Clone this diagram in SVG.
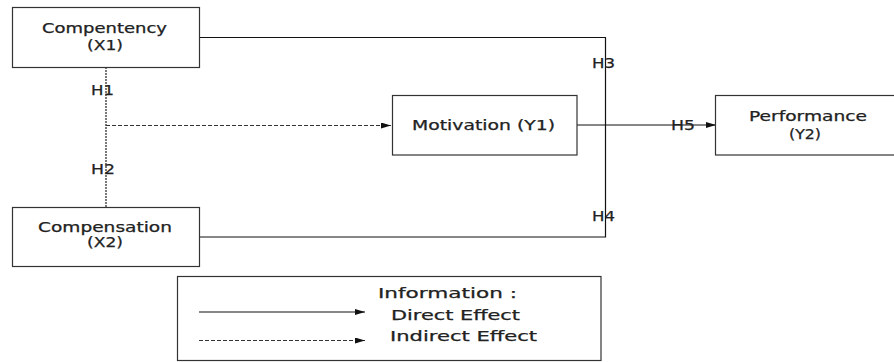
<svg xmlns="http://www.w3.org/2000/svg" width="894" height="362" viewBox="0 0 894 362">
<style>
.box{fill:#fff;stroke:#333;stroke-width:1.2}
.t{font-family:"DejaVu Sans","Liberation Sans",sans-serif;font-size:13.5px;fill:#222;stroke:#222;stroke-width:0.25}
.c{fill:none;stroke:#111;stroke-width:1.2}
.dot{fill:none;stroke:#333;stroke-width:1.3;stroke-dasharray:2,1}
.dash{fill:none;stroke:#333;stroke-width:1.1;stroke-dasharray:4,2}
</style>
<defs>
<marker id="ah" viewBox="0 0 10 6" refX="10" refY="3" markerWidth="10" markerHeight="6" markerUnits="userSpaceOnUse" orient="auto">
<path d="M0,0 L10,3 L0,6 Z" fill="#111"/>
</marker>
</defs>
<rect width="894" height="362" fill="#fff"/>
<g id="connectors">
<polyline class="c" points="200,37.5 605.5,37.5 605.5,237 200,237"/>
<line class="dot" x1="106" y1="67" x2="106" y2="207"/>
<line class="dash" x1="106" y1="125.5" x2="391" y2="125.5" marker-end="url(#ah)"/>
<line class="c" x1="577" y1="125" x2="716" y2="125" marker-end="url(#ah)"/>
<text class="t" x="91" y="95" textLength="23" lengthAdjust="spacingAndGlyphs">H1</text>
<text class="t" x="91" y="174" textLength="24" lengthAdjust="spacingAndGlyphs">H2</text>
<text class="t" x="592" y="68" textLength="23" lengthAdjust="spacingAndGlyphs">H3</text>
<text class="t" x="592" y="221" textLength="23" lengthAdjust="spacingAndGlyphs">H4</text>
<text class="t" x="671" y="130" textLength="24" lengthAdjust="spacingAndGlyphs">H5</text>
</g>
<g id="compentency">
<rect class="box" x="12.5" y="7.5" width="187" height="60"/>
<text class="t" x="42" y="33" textLength="125" lengthAdjust="spacingAndGlyphs">Compentency</text>
<text class="t" x="87" y="50" textLength="36" lengthAdjust="spacingAndGlyphs">(X1)</text>
</g>
<g id="compensation">
<rect class="box" x="12.5" y="207.5" width="187" height="59"/>
<text class="t" x="38" y="232" textLength="134" lengthAdjust="spacingAndGlyphs">Compensation</text>
<text class="t" x="87" y="247" textLength="36" lengthAdjust="spacingAndGlyphs">(X2)</text>
</g>
<g id="motivation">
<rect class="box" x="392.5" y="95.5" width="184.5" height="59.5"/>
<text class="t" x="412" y="130" font-size="14.5" textLength="143" lengthAdjust="spacingAndGlyphs">Motivation (Y1)</text>
</g>
<g id="performance">
<rect class="box" x="715.5" y="95.5" width="184" height="59.5"/>
<text class="t" x="749" y="121" textLength="118" lengthAdjust="spacingAndGlyphs">Performance</text>
<text class="t" x="789" y="139" textLength="32" lengthAdjust="spacingAndGlyphs">(Y2)</text>
</g>
<g id="legend">
<rect class="box" x="177.5" y="276.5" width="423.5" height="84"/>
<line class="c" x1="199" y1="312" x2="365" y2="312" marker-end="url(#ah)"/>
<line class="dash" x1="199" y1="340.5" x2="365" y2="340.5" marker-end="url(#ah)"/>
<text class="t" x="378" y="298" textLength="139" lengthAdjust="spacingAndGlyphs">Information :</text>
<text class="t" x="391" y="320" textLength="129" lengthAdjust="spacingAndGlyphs">Direct Effect</text>
<text class="t" x="390" y="341" textLength="147" lengthAdjust="spacingAndGlyphs">Indirect Effect</text>
</g>
</svg>
